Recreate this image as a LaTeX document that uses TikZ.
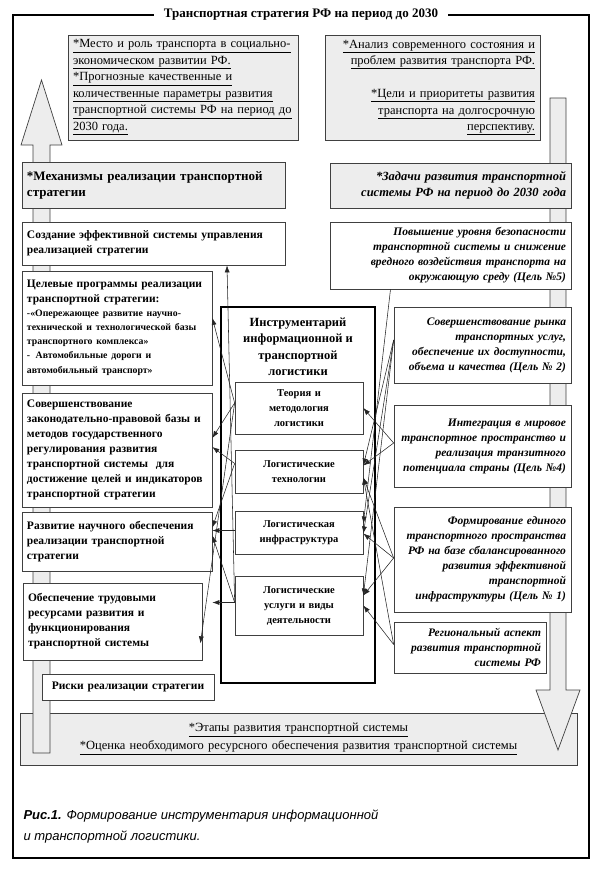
\documentclass[tikz,border=0pt]{standalone}
\usepackage{fontspec}
\setmainfont{Liberation Serif}
\newfontfamily\capfont{Liberation Sans}
\usetikzlibrary{arrows.meta}
\newcommand{\undl}[1]{\underline{#1\vphantom{ру}}}

\begin{document}
\begin{tikzpicture}[x=1pt, y=-1pt]
    \tikzset{
        plainBox/.style={draw=black!75, line width=0.7pt, fill=white, inner xsep=5pt, inner ysep=2pt},
        grayFill/.style={fill=black!7},
        leftBox/.style={plainBox, align=left, font=\fontsize{11.5}{15}\selectfont\bfseries},
        rightBox/.style={plainBox, align=right, font=\fontsize{11.5}{15}\selectfont\bfseries\itshape},
        toolBox/.style={plainBox, align=center, font=\fontsize{10.5}{15}\selectfont\bfseries},
        noteText/.style={font=\fontsize{12.5}{16.5}\selectfont},
        bigArrow/.style={draw=black!75, line width=0.7pt, fill=black!7},
        link/.style={draw=black!85, line width=0.55pt, -{Latex[length=7pt,width=5pt]}}
    }
    \useasboundingbox (0,0) rectangle (600,880);

    % frame and title
    \draw[line width=1.2pt] (13,15) rectangle (589,858);
    \node[fill=white, inner xsep=10pt, font=\fontsize{13}{15}\selectfont\bfseries] (title) at (301,15)
        {Транспортная стратегия РФ на период до 2030};

    % top notes
    \node[plainBox, grayFill, noteText, align=left, text width=220pt, minimum height=105pt] (placeNote) at (183,87.5)
        {\undl{*Место и роль транспорта в социально-}\\
         \undl{экономическом развитии РФ.}\\
         \undl{*Прогнозные качественные и}\\
         \undl{количественные параметры развития}\\
         \undl{транспортной системы РФ на период до}\\
         \undl{2030 года.}};
    \node[plainBox, grayFill, noteText, align=right, text width=205pt, minimum height=105pt] (analysisNote) at (432.5,87.5)
        {\undl{*Анализ современного состояния и}\\
         \undl{проблем развития транспорта РФ.}\\[16.5pt]
         \undl{*Цели и приоритеты развития}\\
         \undl{транспорта на долгосрочную}\\
         \undl{перспективу.}};

    % bottom band
    \node[plainBox, grayFill, font=\fontsize{12.5}{18}\selectfont, align=center, text width=547pt, minimum height=52pt] (stagesNote) at (298.5,739)
        {\undl{*Этапы развития транспортной системы}\\
         \undl{*Оценка необходимого ресурсного обеспечения развития транспортной системы}};

    % big arrows
    \draw[bigArrow] (33,753) -- (33,145) -- (21,145) -- (41.5,80) -- (62,145) -- (50,145) -- (50,753) -- cycle;
    \draw[bigArrow] (550,98) -- (550,690) -- (536,690) -- (558,750) -- (580,690) -- (566,690) -- (566,98) -- cycle;

    % left column
    \node[leftBox, grayFill, font=\fontsize{13}{16}\selectfont\bfseries, text width=253pt, minimum height=46pt] (mechanisms) at (153.5,185)
        {*Механизмы реализации транспортной\\стратегии};
    \node[leftBox, text width=253pt, minimum height=43pt] (control) at (153.5,243.5)
        {Создание эффективной системы управления\\реализацией стратегии};
    \node[leftBox, text width=180pt, minimum height=114pt] (programs) at (117,328)
        {Целевые программы реализации\\транспортной стратегии:\\
         {\fontsize{9.8}{14}\selectfont -«Опережающее развитие научно-\\
         технической и технологической базы\\
         транспортного комплекса»\\
         - \,Автомобильные дороги и\\
         автомобильный транспорт»}};
    \node[leftBox, text width=180pt, minimum height=114pt] (legal) at (117,450)
        {Совершенствование\\законодательно-правовой базы и\\методов государственного\\регулирования развития\\транспортной системы \ для\\достижение целей и индикаторов\\транспортной стратегии};
    \node[leftBox, text width=180pt, minimum height=59pt] (science) at (117,541.5)
        {Развитие научного обеспечения\\реализации транспортной\\стратегии};
    \node[leftBox, text width=169pt, minimum height=77pt] (labour) at (112.5,621.5)
        {Обеспечение трудовыми\\ресурсами развития и\\функционирования\\транспортной системы};
    \node[leftBox, align=center, text width=162pt, minimum height=26pt] (risks) at (128,687)
        {Риски реализации стратегии};

    % right column
    \node[rightBox, grayFill, font=\fontsize{12.5}{16}\selectfont\bfseries\itshape, text width=231pt, minimum height=45pt] (tasks) at (450.5,185.5)
        {*Задачи развития транспортной\\системы РФ на период до 2030 года};
    \node[rightBox, text width=231pt, minimum height=67pt] (safety) at (450.5,255.5)
        {Повышение уровня безопасности\\транспортной системы и снижение\\вредного воздействия транспорта на\\окружающую среду (Цель №5)};
    \node[rightBox, text width=167pt, minimum height=76pt] (market) at (482.5,345)
        {Совершенствование рынка\\транспортных услуг,\\обеспечение их доступности,\\объема и качества (Цель № 2)};
    \node[rightBox, text width=167pt, minimum height=82pt] (integration) at (482.5,446)
        {Интеграция в мировое\\транспортное пространство и\\реализация транзитного\\потенциала страны (Цель №4)};
    \node[rightBox, text width=167pt, minimum height=105pt] (unified) at (482.5,559.5)
        {Формирование единого\\транспортного пространства\\РФ на базе сбалансированного\\развития эффективной\\транспортной\\инфраструктуры (Цель № 1)};
    \node[rightBox, text width=142pt, minimum height=51pt] (regional) at (470,647.5)
        {Региональный аспект\\развития транспортной\\системы РФ};

    % instruments
    \draw[line width=2.4pt, fill=white] (221,307) rectangle (375,683);
    \node[align=center, font=\fontsize{12.5}{16.5}\selectfont\bfseries] (toolsTitle) at (298,347)
        {Инструментарий\\информационной и\\транспортной\\логистики};
    \node[toolBox, text width=118pt, minimum height=52pt] (theory) at (299,408)
        {Теория и\\методология\\логистики};
    \node[toolBox, text width=118pt, minimum height=43pt] (tech) at (299,471.5)
        {Логистические\\технологии};
    \node[toolBox, text width=118pt, minimum height=43pt] (infra) at (299,532.5)
        {Логистическая\\инфраструктура};
    \node[toolBox, text width=118pt, minimum height=59pt] (services) at (299,605.5)
        {Логистические\\услуги и виды\\деятельности};

    % link ends
    \coordinate (theoryL) at ([yshift=5pt]theory.west);
    \coordinate (techL) at ([yshift=8pt]tech.west);
    \coordinate (infraL) at ([yshift=2pt]infra.west);
    \coordinate (servicesL) at ([yshift=3pt]services.west);
    \coordinate (safetyB) at ([xshift=-60pt]safety.south);
    \coordinate (marketL) at ([yshift=5pt]market.west);
    \coordinate (integrationL) at ([yshift=3pt]integration.west);
    \coordinate (unifiedL) at ([yshift=1.5pt]unified.west);
    \coordinate (regionalL) at ([yshift=3pt]regional.west);

    % links to the left
    \draw[link] (theoryL) -- ([yshift=10pt]programs.east);
    \draw[link] (theoryL) -- ([yshift=12pt]legal.east);
    \draw[link] (theoryL) -- ([xshift=-2pt, yshift=17pt]labour.south east);
    \draw[link] (techL) -- ([yshift=3pt]legal.east);
    \draw[link] (techL) -- ([yshift=14pt]science.east);
    \draw[link] (infraL) -- ([yshift=11pt]science.east);
    \draw[link] (servicesL) -- ([yshift=6pt]science.east);
    \draw[link] (servicesL) -- ([xshift=73.5pt]control.south);
    \draw[link] (servicesL) -- (servicesL -| science.east);

    % links to the right
    \draw[link] (safetyB) -- ([yshift=9pt]infra.east);
    \draw[link] (marketL) -- ([yshift=6pt]tech.east);
    \draw[link] (marketL) -- ([yshift=-1pt]infra.east);
    \draw[link] (marketL) -- ([yshift=10pt]services.east);
    \draw[link] (integrationL) -- (theory.east);
    \draw[link] (integrationL) -- ([yshift=6pt]tech.east);
    \draw[link] (unifiedL) -- ([yshift=-6pt]tech.east);
    \draw[link] (unifiedL) -- ([yshift=-1pt]infra.east);
    \draw[link] (unifiedL) -- ([yshift=10pt]services.east);
    \draw[link] (regionalL) -- (services.east);
    \draw[link] (regionalL) -- ([yshift=-6pt]tech.east);

    % caption
    \node[anchor=north west, align=left, font=\capfont\fontsize{13}{21}\selectfont\itshape] (caption) at (20,806)
        {{\bfseries Рис.1.} Формирование инструментария информационной\\и транспортной логистики.};
\end{tikzpicture}
\end{document}
